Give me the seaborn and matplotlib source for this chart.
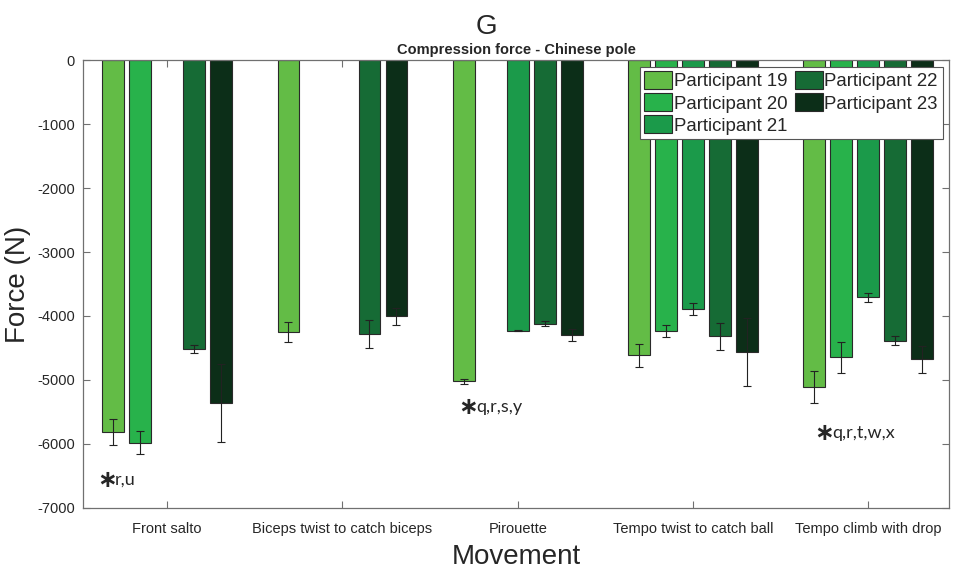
import numpy as np
import pandas as pd
import matplotlib
matplotlib.use("Agg")
import matplotlib.pyplot as plt
from matplotlib.container import BarContainer
import seaborn as sns

movements = ["Front salto", "Biceps twist to catch biceps", "Pirouette",
             "Tempo twist to catch ball", "Tempo climb with drop"]
participants = ["Participant 19", "Participant 20", "Participant 21",
                "Participant 22", "Participant 23"]

# mean compression force (N) per participant, one value per movement (NaN = not performed)
p19_mean = [-5810, -4250, -5020, -4610, -5115]
p20_mean = [-5980, np.nan, np.nan, -4235, -4645]
p21_mean = [np.nan, np.nan, -4230, -3895, -3710]
p22_mean = [-4520, -4280, -4120, -4320, -4385]
p23_mean = [-5360, -4005, -4300, -4565, -4675]

# standard deviations (N)
p19_sd = [200, 156, 40, 180, 250]
p20_sd = [180, np.nan, np.nan, 100, 240]
p21_sd = [np.nan, np.nan, 10, 95, 70]
p22_sd = [60, 225, 40, 215, 73]
p23_sd = [610, 130, 90, 530, 214]

colors = ["#63bc46", "#28b24b", "#1b9a4a", "#166b35", "#0c2e18"]

# significance annotations: (x position in category units, y value, text)
notes = [(-0.40, -6560, "r,u"), (1.66, -5420, "q,r,s,y"), (3.69, -5830, "q,r,t,w,x")]

means = [p19_mean, p20_mean, p21_mean, p22_mean, p23_mean]
sds = [p19_sd, p20_sd, p21_sd, p22_sd, p23_sd]

rows = []
for p, m in zip(participants, means):
    for mv, v in zip(movements, m):
        rows.append({"Movement": mv, "Participant": p, "Force": v})
df = pd.DataFrame(rows)

sns.set_style("white")
plt.rcParams["font.family"] = ["Liberation Sans", "DejaVu Sans"]
plt.rcParams["axes.unicode_minus"] = False

fig = plt.figure(figsize=(9.54, 5.70), dpi=100)
ax = fig.add_axes([0.087, 0.1088, 0.9078, 0.7859])

sns.barplot(data=df, x="Movement", y="Force", hue="Participant",
            order=movements, hue_order=participants, palette=colors,
            errorbar=None, width=0.77, gap=0.19, saturation=1,
            edgecolor="#2a2a2a", linewidth=0.8, ax=ax)

# error bars at the drawn bar centres
bar_conts = [c for c in ax.containers if isinstance(c, BarContainer)]
for i, cont in enumerate(bar_conts):
    for bar in cont:
        h = bar.get_height()
        if not np.isfinite(h):
            continue
        xc = bar.get_x() + bar.get_width() / 2
        cat = int(round(xc))
        sd = sds[i][cat]
        if np.isfinite(sd):
            ax.errorbar(xc, means[i][cat], yerr=sd, fmt="none", ecolor="#222222",
                        elinewidth=0.8, capsize=3, capthick=0.8, zorder=5)

ax.set_ylim(-7000, 0)
ax.set_xlim(-0.48, 4.46)
ax.set_yticks(np.arange(-7000, 1, 1000))
ax.tick_params(axis="both", direction="in", length=5, width=0.8, color="#707070",
               top=True, right=True, bottom=True, left=True, labelsize=10.5, pad=6)
ax.tick_params(axis="x", pad=10)
for s in ax.spines.values():
    s.set_color("#707070")
    s.set_linewidth(0.9)
    s.set_visible(True)

ax.set_xlabel("Movement", fontsize=20, labelpad=6)
ax.set_ylabel("Force (N)", fontsize=20, labelpad=4)

for x, y, t in notes:
    ax.text(x, y, "\u2217", fontsize=17, ha="left", va="center",
            family=["DejaVu Sans"], fontweight="bold")
    ax.annotate(t, (x, y), xytext=(13, 0), textcoords="offset points",
                fontsize=13, ha="left", va="center", family=["Lato", "DejaVu Sans"])

leg = ax.legend(loc="upper right", ncol=2, fontsize=13.4, frameon=True,
                fancybox=False, edgecolor="#555555", framealpha=1,
                handlelength=1.5, handleheight=1.1, handletextpad=0.08,
                labelspacing=0.15, columnspacing=0.4, borderpad=0.25,
                borderaxespad=0.35)
leg.get_frame().set_linewidth(0.8)

ax.set_title("Compression force - Chinese pole", fontsize=10.5, fontweight="bold",
             pad=4)
fig.text(0.51, 0.975, "G", fontsize=20, ha="center", va="top")

fig.savefig("out.png", dpi=100)
